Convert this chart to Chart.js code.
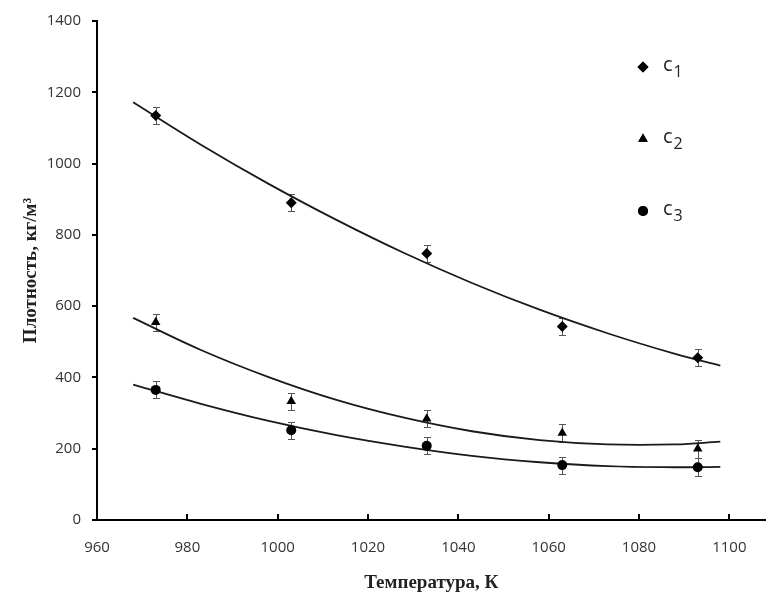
<!DOCTYPE html>
<html>
<head>
<meta charset="utf-8">
<script src="https://cdn.jsdelivr.net/npm/chart.js@4.4.1/dist/chart.umd.min.js"></script>
<style>
  html, body { margin: 0; padding: 0; background: #fff; }
  canvas { display: block; }
</style>
</head>
<body>
<canvas id="chart" width="771" height="601"></canvas>
<script>
// Measured points: temperature (K) and density (kg/m3) with error half-widths
const temperatures = [973, 1003, 1033, 1063, 1093];
const densityC1 = [1135, 890, 748, 543, 455];
const densityC2 = [555, 333, 284, 244, 200];
const densityC3 = [365, 252, 208, 154, 148];
const errorC1 = [24, 24, 24, 24, 24];
const errorC2 = [24, 24, 24, 24, 25];
const errorC3 = [24, 24, 24, 24, 25];

// Trend curves sampled along the temperature range
const trendTemps = [968, 983, 998, 1013, 1028, 1043, 1058, 1073, 1088, 1098];
const trendC1 = [1172, 1053, 943, 842, 749, 665, 590, 524, 466, 433];
const trendC2 = [567, 477, 401, 337, 287, 249, 224, 212, 212, 220];
const trendC3 = [380, 326, 278, 238, 206, 180, 162, 151, 148, 149];

const seriesNames = ['c1', 'c2', 'c3'];
const xTickValues = [960, 980, 1000, 1020, 1040, 1060, 1080, 1100];
const yTickValues = [0, 200, 400, 600, 800, 1000, 1200, 1400];

const toPoints = (xs, ys) => xs.map((x, i) => ({ x, y: ys[i] }));

const markerStyles = ['rectRot', 'triangle', 'circle'];
const markerRadius = [5.5, 5.5, 5];

function pointSet(name, values, errors, idx) {
  return {
    type: 'scatter',
    label: name,
    data: toPoints(temperatures, values),
    errors: errors,
    pointStyle: markerStyles[idx],
    pointRadius: markerRadius[idx],
    backgroundColor: '#000',
    borderColor: '#000',
    borderWidth: 0,
    showLine: false,
    order: 0
  };
}

function trendSet(values) {
  return {
    type: 'line',
    label: '',
    data: toPoints(trendTemps, values),
    borderColor: '#1a1a1a',
    borderWidth: 1.8,
    pointRadius: 0,
    fill: false,
    tension: 0.4,
    order: 1
  };
}

// Vertical error bars with caps, drawn beneath the markers
const errorBars = {
  id: 'errorBars',
  beforeDatasetsDraw(chart) {
    const { ctx, scales: { x, y } } = chart;
    ctx.save();
    ctx.strokeStyle = '#555';
    ctx.lineWidth = 1;
    chart.data.datasets.forEach(ds => {
      if (!ds.errors) return;
      ds.data.forEach((p, i) => {
        const px = Math.round(x.getPixelForValue(p.x)) + 0.5;
        const top = Math.round(y.getPixelForValue(p.y + ds.errors[i])) + 0.5;
        const bot = Math.round(y.getPixelForValue(p.y - ds.errors[i])) + 0.5;
        ctx.beginPath();
        ctx.moveTo(px, top); ctx.lineTo(px, bot);
        ctx.moveTo(px - 3.5, top); ctx.lineTo(px + 3.5, top);
        ctx.moveTo(px - 3.5, bot); ctx.lineTo(px + 3.5, bot);
        ctx.stroke();
      });
    });
    ctx.restore();
  }
};

// Tick marks on the temperature axis point into the plot
const innerTicks = {
  id: 'innerTicks',
  afterDraw(chart) {
    const { ctx, scales: { x } } = chart;
    ctx.save();
    ctx.strokeStyle = '#000';
    ctx.lineWidth = 2;
    x.ticks.forEach(t => {
      const px = Math.round(x.getPixelForValue(t.value));
      if (px <= x.left + 1) return;
      ctx.beginPath();
      ctx.moveTo(px, x.top);
      ctx.lineTo(px, x.top - 6);
      ctx.stroke();
    });
    ctx.restore();
  }
};

// Legend: marker followed by "c" with a subscript index
const subLegend = {
  id: 'subLegend',
  afterDraw(chart) {
    const { ctx } = chart;
    const rows = [67, 139, 211];
    const markerX = 643;
    const textX = 663;
    ctx.save();
    chart.data.datasets.filter(d => d.errors).forEach((ds, i) => {
      const yy = rows[i];
      ctx.fillStyle = '#000';
      ctx.strokeStyle = '#000';
      Chart.helpers.drawPoint(ctx, { pointStyle: ds.pointStyle, radius: ds.pointRadius, rotation: 0, borderWidth: 0 }, markerX, yy);
      ctx.fill();
      ctx.fillStyle = '#222';
      ctx.textBaseline = 'alphabetic';
      ctx.textAlign = 'left';
      ctx.font = '20px "Open Sans", sans-serif';
      const base = ds.label.charAt(0);
      const sub = ds.label.slice(1);
      ctx.fillText(base, textX, yy + 4);
      const w = ctx.measureText(base).width;
      ctx.font = '16px "Open Sans", sans-serif';
      ctx.fillText(sub, textX + w + 1, yy + 10);
    });
    ctx.restore();
  }
};

const tickFont = { family: '"Open Sans", sans-serif', size: 15 };
const plainNumber = v => String(v);

new Chart(document.getElementById('chart'), {
  type: 'scatter',
  data: {
    datasets: [
      pointSet(seriesNames[0], densityC1, errorC1, 0),
      pointSet(seriesNames[1], densityC2, errorC2, 1),
      pointSet(seriesNames[2], densityC3, errorC3, 2),
      trendSet(trendC1),
      trendSet(trendC2),
      trendSet(trendC3)
    ]
  },
  options: {
    responsive: false,
    animation: false,
    devicePixelRatio: 1,
    layout: { padding: { top: 21, right: 0, bottom: 0, left: 0 } },
    plugins: {
      legend: { display: false },
      tooltip: { enabled: false }
    },
    scales: {
      x: {
        type: 'linear',
        min: 960,
        max: 1108,
        afterBuildTicks(scale) { scale.ticks = xTickValues.map(v => ({ value: v })); },
        afterFit(scale) { scale.height = 81; },
        ticks: { font: tickFont, color: '#333', padding: 19, maxRotation: 0, includeBounds: false, callback: plainNumber },
        grid: { display: false, drawTicks: false },
        border: { display: true, color: '#000', width: 2 },
        title: {
          display: true,
          text: 'Температура, К',
          font: { family: '"Liberation Serif", "Times New Roman", serif', size: 19, weight: 'bold' },
          color: '#222',
          padding: { top: 0, bottom: 7 }
        }
      },
      y: {
        type: 'linear',
        min: 0,
        max: 1400,
        afterBuildTicks(scale) { scale.ticks = yTickValues.map(v => ({ value: v })); },
        afterFit(scale) { scale.width = 97; },
        ticks: { font: tickFont, color: '#333', padding: 11, callback: plainNumber },
        grid: { display: true, drawOnChartArea: false, drawTicks: true, tickLength: 5, color: '#000', lineWidth: 2 },
        border: { display: true, color: '#000', width: 2 },
        title: {
          display: true,
          text: 'Плотность, кг/м³',
          font: { family: '"Liberation Serif", "Times New Roman", serif', size: 19, weight: 'bold' },
          color: '#222',
          padding: { top: 20, bottom: 0 }
        }
      }
    }
  },
  plugins: [errorBars, innerTicks, subLegend]
});
</script>
</body>
</html>
